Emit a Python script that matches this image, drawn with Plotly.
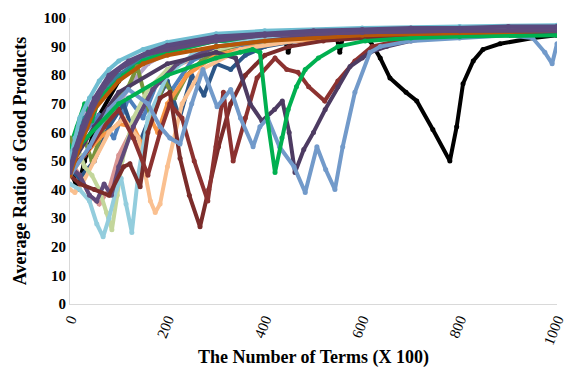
import plotly.graph_objects as go

# ---- data (x in units of 100 terms, y = average ratio of good products) ----
s_purple_top_x = [0,10,25,50,80,120,160,200,300,400,500,600,700,800,900,1000]
s_purple_top_y = [48,52,62,72,80,85,88,90.5,93.5,94.5,95.5,96,96.5,96.5,97,97]

s_aqua_x = [0,10,20,40,60,80,100,150,200,300,400,600,800,1000]
s_aqua_y = [50,58,65,72,78,82,85,89,91.5,94.5,95.5,96.5,97,97.5]

s_cyan_x = [0,20,40,55,68,80,95,105,115,127,140,160,200,250,300,400,600,800,1000]
s_cyan_y = [42,40,36,28,23.5,30,40,44,35,25,45,65,80,87,90,93,95,96,96.5]

s_lgreen_x = [0,15,30,45,60,75,86,97,107,130,160,200,260,350,500,700,1000]
s_lgreen_y = [50,55,48,45,40,32,26,38,50,65,75,82,87,91,93.5,95,96]

s_lorange_x = [0,10,25,50,80,110,140,155,165,175,185,200,230,270,350,500,700,1000]
s_lorange_y = [40,39,42,50,60,65,58,45,36,32,35,48,70,82,89,93,95,96]

s_orange_x = [0,20,60,100,130,150,165,180,200,240,300,400,600,1000]
s_orange_y = [45,50,58,63,62,55,65,60,70,80,87,91,94,95.5]

s_olive_x = [0,10,25,45,70,100,120,138,155,168,185,195,215,240,270,300,350,450,600,1000]
s_olive_y = [58,55,60,50,62,72,76,83,72,64,73,78,72,80,85,88,91,93,95,96]

s_dred1_x = [0,20,50,80,110,123,144,160,185,205,226,245,267,285,305,330,360,400,450,520,600,1000]
s_dred1_y = [45,42,40,38,48,49,41,60,72,74,51,38,27,40,55,70,80,87,90,92,93,95]

s_dred2_x = [0,30,70,100,130,160,185,205,230,255,283,300,315,335,360,384,421,445,468,490,523,550,585,620,700,1000]
s_dred2_y = [48,52,62,68,58,45,60,70,65,50,36,55,74,50,65,79,86,82,81,76,71,78,85,90,93,95]

s_lblue_x = [0,40,80,120,160,185,205,226,250,273,302,330,350,376,390,406,430,460,483,507,525,544,560,585,616,637,700,800,900,950,975,990,1000]
s_lblue_y = [45,55,68,75,70,62,58,56,70,82,69,75,65,55,62,65,55,48,39,55,47,40,55,74,88,90,92,93,94,93,88,84,91]

s_green_x = [0,100,200,300,350,375,390,405,421,435,448,465,483,510,550,606,700,800,1000]
s_green_y = [52,70,80,86,88,89,88,65,46,58,68,76,82,86,90,92,93,93.5,94]

s_dpurple_x = [0,50,100,200,300,340,370,394,420,436,450,462,480,500,524,550,575,600,616,650,700,800,1000]
s_dpurple_y = [48,62,74,84,88,86,70,64,68,71,60,46,54,60,68,76,83,86,88,90,92,94,95]

s_black_x = [0,8,15,30,60,100,150,200,300,400,440,448,456,500,548,554,560,600,616,637,657,690,712,745,780,794,807,828,848,883,951,1000]
s_black_y = [48,44,40,50,66,78,86,89,92,93,93,88,93,93,93,88,93,93,92,86,79,74,71,61,50,62,77,85,89,91,93,94]

s_dblue_x = [0,20,50,80,110,140,170,200,225,250,275,300,330,360,400,500,1000]
s_dblue_y = [47,44,50,62,70,55,68,78,65,80,73,84,82,87,90,93,96]

s_blue_x = [0,30,60,90,120,150,180,210,250,300,400,600,1000]
s_blue_y = [50,60,66,58,72,65,78,75,85,89,92,94.5,96]

s_brown_x = [0,20,50,100,150,200,300,400,600,1000]
s_brown_y = [45,55,68,78,84,87,90,92,94,95.5]

s_pink_x = [0,20,40,60,80,100,130,160,200,300,500,1000]
s_pink_y = [50,45,38,35,40,52,62,72,82,89,93.5,96]

s_lav_x = [0,20,40,70,100,130,160,200,300,1000]
s_lav_y = [55,62,70,60,70,78,84,88,92,96]

s_purple2_x = [0,20,40,55,70,85,100,130,170,220,300,500,1000]
s_purple2_y = [48,45,38,36,42,38,48,62,75,84,90,94,96]

s_teal_x = [0,30,60,100,150,200,300,500,1000]
s_teal_y = [52,65,72,80,86,89,92,94,96]

s_bgreen2_x = [0,15,30,45,60,80,110,150,200,300,1000]
s_bgreen2_y = [55,62,70,64,72,75,80,85,88,92,95.5]

s_purple3_x = [0,15,40,70,100,150,200,300,400,600,800,1000]
s_purple3_y = [46,55,66,76,82,87,89,92,94,95,95.5,96]

s_purple4_x = [0,10,30,60,100,150,200,300,400,600,800,1000]
s_purple4_y = [47,54,64,74,82,87,89.5,92.5,94,95,95.5,95.5]

series = [
    (s_black_x, s_black_y, "#000000"),
    (s_lav_x, s_lav_y, "#b3a2c7"),
    (s_pink_x, s_pink_y, "#d99694"),
    (s_teal_x, s_teal_y, "#31859c"),
    (s_blue_x, s_blue_y, "#4f81bd"),
    (s_dblue_x, s_dblue_y, "#2c5687"),
    (s_bgreen2_x, s_bgreen2_y, "#00b050"),
    (s_olive_x, s_olive_y, "#77933c"),
    (s_orange_x, s_orange_y, "#f79646"),
    (s_lorange_x, s_lorange_y, "#fac090"),
    (s_lgreen_x, s_lgreen_y, "#c3d69b"),
    (s_cyan_x, s_cyan_y, "#93cddd"),
    (s_purple2_x, s_purple2_y, "#5f497a"),
    (s_dred1_x, s_dred1_y, "#7b2c2a"),
    (s_dred2_x, s_dred2_y, "#8c3230"),
    (s_dpurple_x, s_dpurple_y, "#4d3b62"),
    (s_lblue_x, s_lblue_y, "#729aca"),
    (s_green_x, s_green_y, "#00b050"),
    (s_aqua_x, s_aqua_y, "#6fbdd1"),
    (s_brown_x, s_brown_y, "#b65708"),
    (s_purple4_x, s_purple4_y, "#5b4a7e"),
    (s_purple3_x, s_purple3_y, "#604a7b"),
    (s_purple_top_x, s_purple_top_y, "#5b4a7e"),
]

fig = go.Figure()
for xs, ys, c in series:
    fig.add_trace(go.Scatter(x=xs, y=ys, mode="lines+markers",
                             line=dict(color=c, width=4),
                             marker=dict(color=c, size=5),
                             showlegend=False, hoverinfo="skip"))

font_serif = "Liberation Serif, Times New Roman, serif"
fig.update_layout(
    width=568, height=374,
    margin=dict(l=70, r=11, t=18, b=70),
    paper_bgcolor="white", plot_bgcolor="white",
    font=dict(family=font_serif, color="#000000"),
    xaxis=dict(range=[0, 1000], tickvals=[0, 200, 400, 600, 800, 1000],
               tickangle=-68, showgrid=False, zeroline=False, automargin=False,
               showline=True, linecolor="#d9d9d9", linewidth=1,
               ticks="", tickfont=dict(family=font_serif, size=15, color="#000"),
               title=dict(text="<b>The Number of Terms (X 100)</b>",
                          font=dict(family=font_serif, size=18), standoff=4)),
    yaxis=dict(range=[0, 100], dtick=10, showgrid=False, zeroline=False, automargin=False,
               showline=True, linecolor="#d9d9d9", linewidth=1,
               ticks="", tickfont=dict(family=font_serif, size=15, color="#000"),
               title=dict(text="<b>Average Ratio of Good Products</b>",
                          font=dict(family=font_serif, size=18), standoff=12)),
)
fig.update_xaxes(tickprefix="<b><i>", ticksuffix="</i></b>")
fig.update_yaxes(tickprefix="<b>", ticksuffix="</b>")

fig.write_html("out.html")
